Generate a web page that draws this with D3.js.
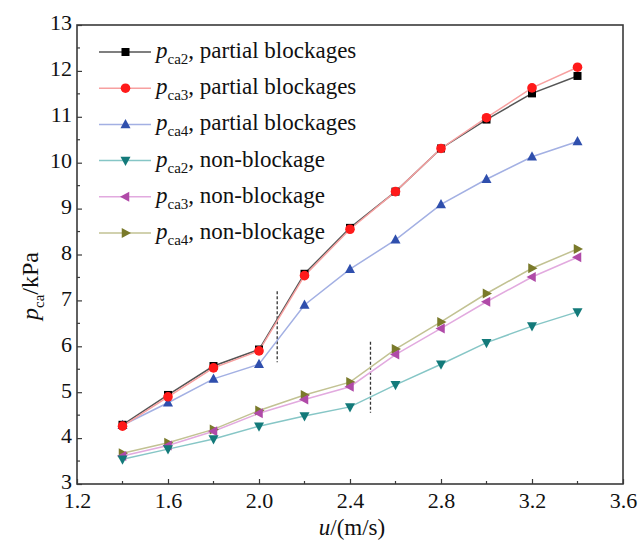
<!DOCTYPE html>
<html>
<head>
<meta charset="utf-8">
<script src="https://cdn.jsdelivr.net/npm/d3@7"></script>
<style>
  html, body { margin: 0; padding: 0; background: #fff; }
  svg { display: block; }
</style>
</head>
<body>
<svg id="chart" width="640" height="544"></svg>
<script>
// Flow velocity u (m/s)
const velocity = [1.4, 1.6, 1.8, 2.0, 2.2, 2.4, 2.6, 2.8, 3.0, 3.2, 3.4];

// Pressure p_ca (kPa) at each monitoring point
const pca2Partial = [4.29, 4.94, 5.57, 5.93, 7.58, 8.58, 9.37, 10.31, 10.94, 11.51, 11.89];
const pca3Partial = [4.26, 4.90, 5.53, 5.90, 7.54, 8.55, 9.37, 10.31, 10.98, 11.63, 12.08];
const pca4Partial = [4.28, 4.77, 5.29, 5.61, 6.90, 7.68, 8.32, 9.09, 9.64, 10.13, 10.46];
const pca2None    = [3.54, 3.76, 3.98, 4.26, 4.48, 4.68, 5.16, 5.61, 6.08, 6.44, 6.75];
const pca3None    = [3.61, 3.84, 4.15, 4.54, 4.84, 5.12, 5.82, 6.39, 6.97, 7.51, 7.94];
const pca4None    = [3.67, 3.90, 4.19, 4.60, 4.94, 5.22, 5.94, 6.53, 7.15, 7.70, 8.12];

// Series names: subscript and condition
const seriesSub   = ["ca2", "ca3", "ca4", "ca2", "ca3", "ca4"];
const seriesCond  = ["partial blockages", "partial blockages", "partial blockages",
                     "non-blockage", "non-blockage", "non-blockage"];

// Axis ticks
const xTicks = [1.2, 1.6, 2.0, 2.4, 2.8, 3.2, 3.6];
const yTicks = [3, 4, 5, 6, 7, 8, 9, 10, 11, 12, 13];

// Vertical dashed markers: [u, pStart, pEnd]
const dashMarks = [[2.08, 7.2, 5.65], [2.49, 6.1, 4.55]];

const FONT = '"Liberation Serif"';

const styles = [
  { marker: "square",   fill: "#000000", line: "#555555" },
  { marker: "circle",   fill: "#ff1a1a", line: "#f7a0a0" },
  { marker: "up",       fill: "#2f4fad", line: "#a3b0e3" },
  { marker: "down",     fill: "#137a7a", line: "#86c6c6" },
  { marker: "left",     fill: "#b04aa8", line: "#e2aadf" },
  { marker: "right",    fill: "#7a7a2a", line: "#c2c293" }
];
const values = [pca2Partial, pca3Partial, pca4Partial, pca2None, pca3None, pca4None];

const svg = d3.select("#chart");
const L = 77, R = 623, T = 25, B = 484;

const x = d3.scaleLinear().domain([1.2, 3.6]).range([L, R]);
const y = d3.scaleLinear().domain([3, 13]).range([B, T]);

// Frame
svg.append("rect")
  .attr("x", L).attr("y", T).attr("width", R - L).attr("height", B - T)
  .attr("fill", "none").attr("stroke", "#3a3a3a").attr("stroke-width", 1.6);

// Bottom axis (inward ticks)
const xMinor = d3.range(1.4, 3.5, 0.4);
const gx = svg.append("g").attr("transform", `translate(0,${B})`);
gx.call(d3.axisBottom(x).tickValues(xTicks).tickSize(-5).tickFormat(d3.format(".1f")));
gx.call(g => g.select(".domain").remove());
gx.selectAll(".tick line").attr("stroke", "#3a3a3a").attr("stroke-width", 1.2);
gx.selectAll(".tick text").attr("y", 8).attr("dy", "0.71em")
  .attr("fill", "#111").style("font-family", FONT).style("font-size", "22px");
gx.selectAll(".minor").data(xMinor).join("line")
  .attr("x1", d => x(d)).attr("x2", d => x(d)).attr("y1", 0).attr("y2", -3)
  .attr("stroke", "#3a3a3a").attr("stroke-width", 1.2);

// Left axis (inward ticks)
const yMinor = d3.range(3.5, 13, 1);
const gy = svg.append("g").attr("transform", `translate(${L},0)`);
gy.call(d3.axisLeft(y).tickValues(yTicks).tickSize(-5));
gy.call(g => g.select(".domain").remove());
gy.selectAll(".tick line").attr("stroke", "#3a3a3a").attr("stroke-width", 1.2);
gy.selectAll(".tick text").attr("x", -5).attr("dy", "0.22em")
  .attr("fill", "#111").style("font-family", FONT).style("font-size", "22px");
gy.selectAll(".minor").data(yMinor).join("line")
  .attr("y1", d => y(d)).attr("y2", d => y(d)).attr("x1", 0).attr("x2", 3)
  .attr("stroke", "#3a3a3a").attr("stroke-width", 1.2);

// Axis titles
const xt = svg.append("text").attr("x", 352).attr("y", 535).attr("text-anchor", "middle")
  .attr("fill", "#111").style("font-family", FONT).style("font-size", "23px");
xt.append("tspan").style("font-style", "italic").text("u");
xt.append("tspan").text("/(m/s)");

const yt = svg.append("text").attr("transform", "translate(38,286) rotate(-90)")
  .attr("text-anchor", "middle").attr("fill", "#111")
  .style("font-family", FONT).style("font-size", "24px");
yt.append("tspan").style("font-style", "italic").text("p");
yt.append("tspan").style("font-size", "15px").attr("dy", 6).text("ca");
yt.append("tspan").attr("dy", -6).text("/kPa");

// Marker shapes
function markerPath(type, s) {
  const h = s / 2;
  switch (type) {
    case "up":    return `M0,${-h * 1.1}L${h},${h * 0.75}L${-h},${h * 0.75}Z`;
    case "down":  return `M0,${h * 1.1}L${h},${-h * 0.75}L${-h},${-h * 0.75}Z`;
    case "left":  return `M${-h * 1.1},0L${h * 0.75},${-h}L${h * 0.75},${h}Z`;
    case "right": return `M${h * 1.1},0L${-h * 0.75},${-h}L${-h * 0.75},${h}Z`;
    default: return "";
  }
}
function drawMarker(g, type, color) {
  if (type === "square") {
    g.append("rect").attr("x", -4).attr("y", -4).attr("width", 8).attr("height", 8).attr("fill", color);
  } else if (type === "circle") {
    g.append("circle").attr("r", 4.8).attr("fill", color);
  } else {
    g.append("path").attr("d", markerPath(type, 10)).attr("fill", color);
  }
}

// Dashed markers
svg.selectAll(".dash").data(dashMarks).join("line")
  .attr("x1", d => x(d[0])).attr("x2", d => x(d[0]))
  .attr("y1", d => y(d[1])).attr("y2", d => y(d[2]))
  .attr("stroke", "#333").attr("stroke-width", 1.3).attr("stroke-dasharray", "3,2");

// Series lines and markers
const line = d3.line().x((d, i) => x(velocity[i])).y(d => y(d));
const order = [5, 4, 3, 2, 0, 1];
order.forEach(k => {
  svg.append("path").datum(values[k]).attr("d", line)
    .attr("fill", "none").attr("stroke", styles[k].line).attr("stroke-width", 1.5);
});
order.forEach(k => {
  values[k].forEach((v, i) => {
    const g = svg.append("g").attr("transform", `translate(${x(velocity[i])},${y(v)})`);
    drawMarker(g, styles[k].marker, styles[k].fill);
  });
});

// Legend
const legend = svg.append("g");
seriesSub.forEach((sub, i) => {
  const cy = 52 + i * 36.2;
  legend.append("line").attr("x1", 99).attr("x2", 151).attr("y1", cy).attr("y2", cy)
    .attr("stroke", styles[i].line).attr("stroke-width", 1.5);
  const g = legend.append("g").attr("transform", `translate(125.5,${cy})`);
  drawMarker(g, styles[i].marker, styles[i].fill);
  const t = legend.append("text").attr("x", 156).attr("y", cy + 6)
    .attr("fill", "#111").style("font-family", FONT).style("font-size", "23px");
  t.append("tspan").style("font-style", "italic").text("p");
  t.append("tspan").style("font-size", "15px").attr("dy", 6).text(sub);
  t.append("tspan").attr("dy", -6).text(", " + seriesCond[i]);
});
</script>
</body>
</html>
